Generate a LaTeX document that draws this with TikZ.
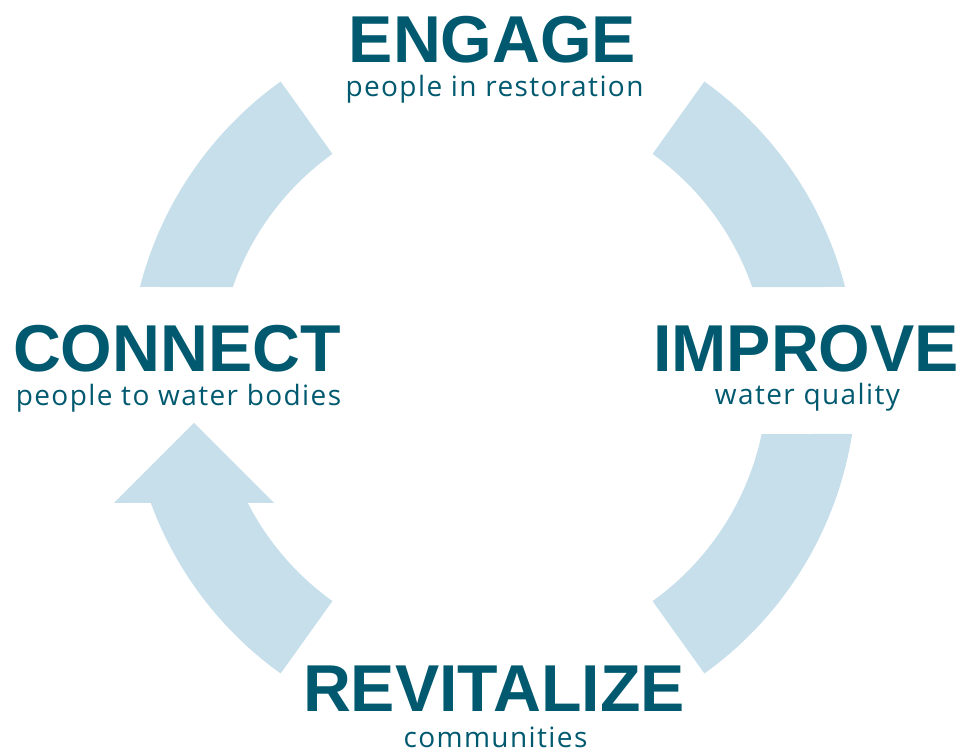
\documentclass[tikz,border=0pt]{standalone}
\usepackage{fontspec}
\usetikzlibrary{calc}
\setmainfont{Liberation Sans}
\newfontfamily\headfont{Liberation Sans}
\newfontfamily\subfont[LetterSpace=5]{Open Sans}
\definecolor{arcblue}{HTML}{C6DFEB}
\definecolor{textteal}{HTML}{00596F}
\begin{document}
\begin{tikzpicture}[x=1pt,y=1pt,
  head/.style={inner sep=0pt, anchor=base, text=textteal, font=\headfont\bfseries\fontsize{66.3}{70}\selectfont},
  subtitle/.style={inner sep=0pt, anchor=base, text=textteal, font=\subfont\fontsize{28}{30}\selectfont},
  band/.style={fill=arcblue, draw=none}]
\useasboundingbox (0,0) rectangle (967,755);
\coordinate (C) at (492.5,377.5);
% top-left band
\path[band] ($(C)+(125.6:364)$) arc[start angle=125.6, end angle=165.6, radius=364]
  -- ($(C)+(160.8:275)$) arc[start angle=160.8, end angle=125.6, radius=275] -- cycle;
% top-right band
\path[band] ($(C)+(54.4:364)$) arc[start angle=54.4, end angle=14.4, radius=364]
  -- ($(C)+(19.2:275)$) arc[start angle=19.2, end angle=54.4, radius=275] -- cycle;
% bottom-right band
\path[band] ($(C)+(-8.93:364)$) arc[start angle=-8.93, end angle=-54.4, radius=364]
  -- ($(C)+(-54.4:275)$) arc[start angle=-54.4, end angle=-11.86, radius=275] -- cycle;
% bottom-left arrow
\coordinate (wl) at (114,252);
\coordinate (tip) at (194,332);
\coordinate (wr) at (274,252);
\path[band] ($(C)+(234.4:364)$) arc[start angle=234.4, end angle=200.17, radius=364]
  -- (wl) -- (tip) -- (wr)
  -- ($(C)+(207.15:275)$) arc[start angle=207.15, end angle=234.4, radius=275] -- cycle;
% texts
\node[head] (engage) at (492.5,692) {ENGAGE};
\node[subtitle] (engagesub) at (494.5,658) {people in restoration};
\node[head] (connect) at (177,383) {CONNECT};
\node[subtitle] (connectsub) at (178.5,349) {people to water bodies};
\node[head] (improve) at (806,383) {IMPROVE};
\node[subtitle] (improvesub) at (807.5,350) {water quality};
\node[head] (revitalize) at (494,43) {REVITALIZE};
\node[subtitle] (revitalizesub) at (495.5,7) {communities};
\end{tikzpicture}
\end{document}
